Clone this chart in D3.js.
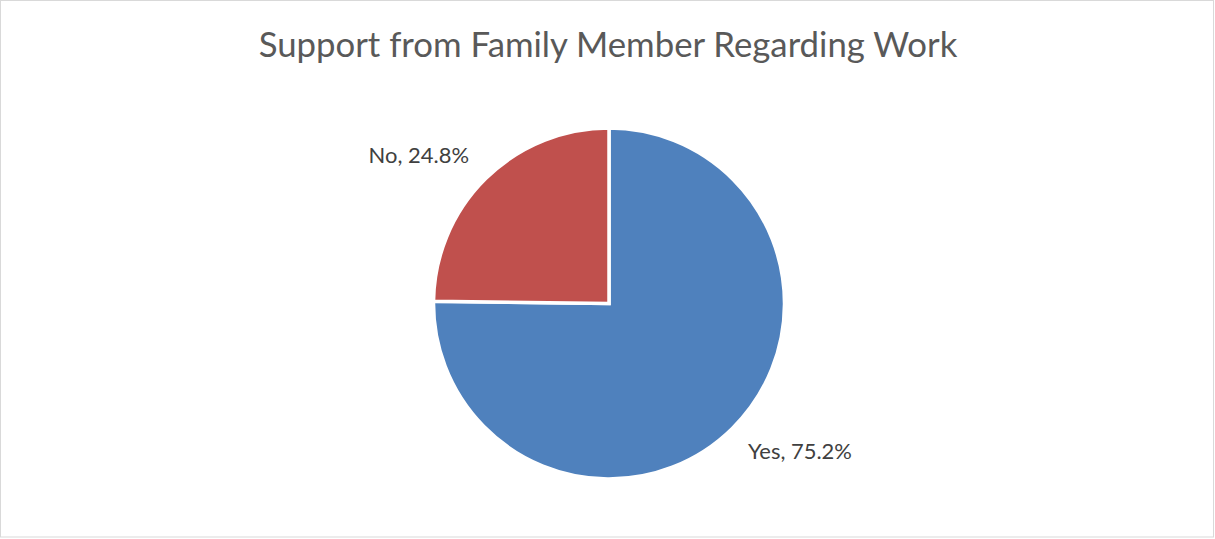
<!DOCTYPE html>
<html>
<head>
<meta charset="utf-8">
<script src="https://cdn.jsdelivr.net/npm/d3@7"></script>
<style>
  html, body { margin: 0; padding: 0; background: #fff; }
  svg { display: block; }
  text { font-family: Lato, "Open Sans", sans-serif; }
</style>
</head>
<body>
<svg id="chart" width="1215" height="539"></svg>
<script>
// Survey answers and their shares (percent)
const categories = ["Yes", "No"];
const shares = [75.2, 24.8];
const colors = ["#4F81BD", "#C0504D"];
const chartTitle = "Support from Family Member Regarding Work";

const W = 1215, H = 539;
const cx = 609, cy = 303.5, radius = 175.5;

const svg = d3.select("#chart");

// chart area frame
svg.append("rect")
  .attr("x", 0.5).attr("y", 0.5)
  .attr("width", W - 2).attr("height", H - 2.5)
  .attr("fill", "#fff")
  .attr("stroke", "#d9d9d9")
  .attr("stroke-width", 1);

// scale a text element's font size so it spans the given width
function fitWidth(sel, width, start) {
  sel.attr("font-size", start);
  const w = sel.node().getComputedTextLength();
  sel.attr("font-size", start * width / w);
}

// title
const title = svg.append("text")
  .attr("x", 608).attr("y", 57)
  .attr("text-anchor", "middle")
  .attr("fill", "#595959")
  .text(chartTitle);
fitWidth(title, 699, 36);

const data = categories.map((c, i) => ({ name: c, value: shares[i], color: colors[i] }));

const pie = d3.pie().sort(null).value(d => d.value).startAngle(0).endAngle(2 * Math.PI);
const arcs = pie(data);
const arc = d3.arc().innerRadius(0).outerRadius(radius);

const g = svg.append("g").attr("transform", `translate(${cx},${cy})`);

g.selectAll("path.slice")
  .data(arcs)
  .join("path")
  .attr("class", "slice")
  .attr("d", arc)
  .attr("fill", d => d.data.color)
  .attr("stroke", "#fff")
  .attr("stroke-width", 3.5)
  .attr("stroke-linejoin", "miter");

// outside labels: "Category, xx.x%"
const labelArc = d3.arc().innerRadius(195).outerRadius(195);
const labels = g.selectAll("text.lbl")
  .data(arcs)
  .join("text")
  .attr("class", "lbl")
  .attr("fill", "#404040")
  .text(d => `${d.data.name}, ${d3.format(".1f")(d.data.value)}%`);

// common font size from the longer label
let lblSize = 20;
{
  const n = labels.filter(d => d.data.name === "Yes");
  n.attr("font-size", lblSize);
  lblSize = lblSize * 104 / n.node().getComputedTextLength();
}
labels.attr("font-size", lblSize)
  .each(function(d) {
    const [px, py] = labelArc.centroid(d);
    const t = d3.select(this);
    t.attr("text-anchor", px < 0 ? "end" : "start")
     .attr("x", px < 0 ? px - 3 : px + 2)
     .attr("y", py < 0 ? py - 2 + 0 : py + lblSize * 0.75);
  });
</script>
</body>
</html>
